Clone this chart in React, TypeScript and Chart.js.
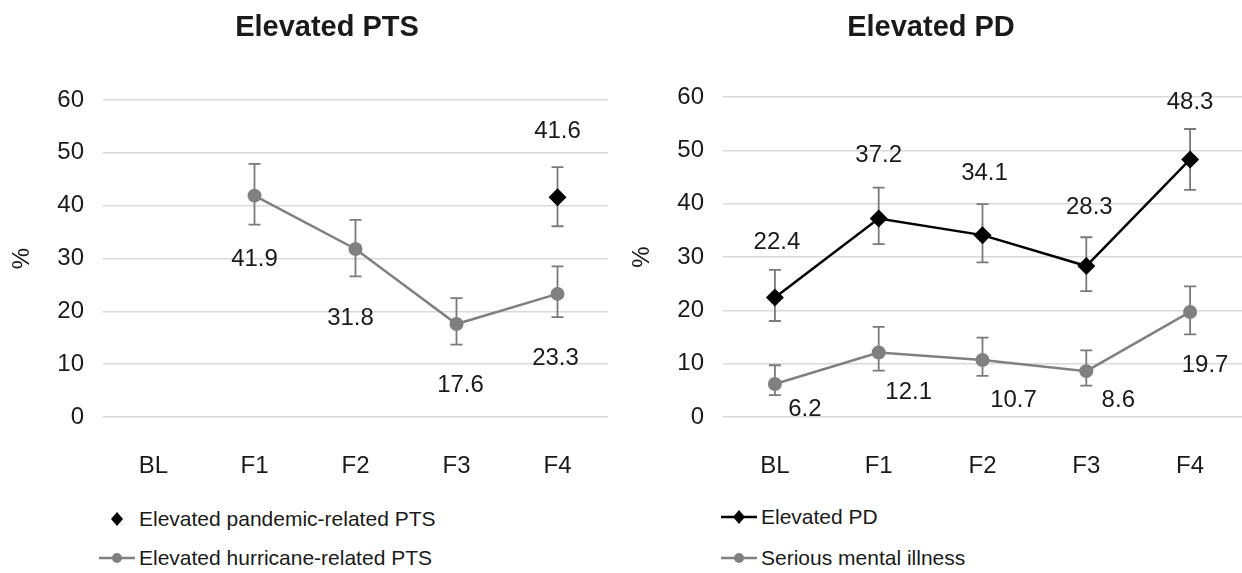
import React, { useEffect, useRef } from "react";
import { Chart, registerables } from "chart.js";

Chart.register(...registerables);

// ---------- data ----------
const categories = ["BL", "F1", "F2", "F3", "F4"];

const pandemicPTS = [null, null, null, null, 41.6];
const pandemicPTSLow = [null, null, null, null, 36.1];
const pandemicPTSHigh = [null, null, null, null, 47.3];

const hurricanePTS = [null, 41.9, 31.8, 17.6, 23.3];
const hurricanePTSLow = [null, 36.4, 26.6, 13.7, 18.9];
const hurricanePTSHigh = [null, 47.9, 37.3, 22.5, 28.5];

const elevatedPD = [22.4, 37.2, 34.1, 28.3, 48.3];
const elevatedPDLow = [18.0, 32.4, 29.0, 23.6, 42.6];
const elevatedPDHigh = [27.6, 43.0, 39.9, 33.7, 54.0];

const seriousMI = [6.2, 12.1, 10.7, 8.6, 19.7];
const seriousMILow = [4.1, 8.7, 7.7, 5.9, 15.5];
const seriousMIHigh = [9.7, 16.9, 14.9, 12.5, 24.5];

const yTicks = [0, 10, 20, 30, 40, 50, 60];

// ---------- label placement (pixel offsets from the point) ----------
const pandemicLabelOffsets = [[0, 0], [0, 0], [0, 0], [0, 0], [0, -66]];
const hurricaneLabelOffsets = [[0, 0], [0, 64], [-5, 69], [4, 61], [-2, 64]];
const pdLabelOffsets = [[2, -55], [0, -63], [2, -62], [3, -59], [0, -57]];
const smiLabelOffsets = [[30, 25], [30, 40], [31, 40], [32, 29], [15, 53]];

const FONT = "'Liberation Sans', Arial, sans-serif";
const TEXT = "#1a1a1a";
const GRAY = "#808080";
const ERR = "#7a7a7a";

const errorBarPlugin = {
  id: "errorBars",
  beforeDatasetsDraw(chart: any) {
    const { ctx } = chart;
    const y = chart.scales.y;
    chart.data.datasets.forEach((ds: any, di: number) => {
      if (!ds.errLow) return;
      const meta = chart.getDatasetMeta(di);
      meta.data.forEach((pt: any, i: number) => {
        const lo = ds.errLow[i];
        const hi = ds.errHigh[i];
        if (lo == null || hi == null || ds.data[i] == null) return;
        const x = pt.x;
        const yl = y.getPixelForValue(lo);
        const yh = y.getPixelForValue(hi);
        ctx.save();
        ctx.strokeStyle = ERR;
        ctx.lineWidth = 1.8;
        ctx.beginPath();
        ctx.moveTo(x, yl);
        ctx.lineTo(x, yh);
        ctx.moveTo(x - 6, yl);
        ctx.lineTo(x + 6, yl);
        ctx.moveTo(x - 6, yh);
        ctx.lineTo(x + 6, yh);
        ctx.stroke();
        ctx.restore();
      });
    });
  },
};

const dataLabelPlugin = {
  id: "valueLabels",
  afterDatasetsDraw(chart: any) {
    const { ctx } = chart;
    chart.data.datasets.forEach((ds: any, di: number) => {
      if (!ds.labelOffsets) return;
      const meta = chart.getDatasetMeta(di);
      meta.data.forEach((pt: any, i: number) => {
        const v = ds.data[i];
        if (v == null) return;
        const [dx, dy] = ds.labelOffsets[i];
        ctx.save();
        ctx.font = `24px ${FONT}`;
        ctx.fillStyle = TEXT;
        ctx.textAlign = "center";
        ctx.textBaseline = "middle";
        ctx.fillText(v.toFixed(1), pt.x + dx, pt.y + dy);
        ctx.restore();
      });
    });
  },
};

const titlePlugin = {
  id: "fixedTitle",
  afterDraw(chart: any, _args: any, opts: any) {
    const { ctx } = chart;
    ctx.save();
    ctx.font = `bold 29px ${FONT}`;
    ctx.fillStyle = TEXT;
    ctx.textAlign = "center";
    ctx.textBaseline = "middle";
    ctx.fillText(opts.text, opts.x, opts.y);
    ctx.restore();
  },
};

function makeOptions(title: string, titleX: number, top: number, rightPad: number) {
  return {
    responsive: false,
    animation: false as const,
    layout: { autoPadding: false, padding: { left: 0, right: rightPad, top: top, bottom: 0 } },
    plugins: {
      legend: { display: false },
      tooltip: { enabled: false },
      title: { display: false },
      fixedTitle: { text: title, x: titleX, y: 28 },
    },
    scales: {
      x: {
        type: "category" as const,
        offset: true,
        grid: { display: false, drawTicks: false },
        border: { display: false },
        ticks: { padding: 35, color: TEXT, font: { family: FONT, size: 24 } },
        afterFit: (s: any) => {
          s.height = 61;
          s.paddingLeft = 0;
          s.paddingRight = 0;
        },
      },
      y: {
        min: 0,
        max: 60,
        afterBuildTicks: (s: any) => {
          s.ticks = yTicks.map((v) => ({ value: v }));
        },
        afterFit: (s: any) => {
          s.width = 103;
        },
        grid: { color: "#d9d9d9", lineWidth: 1.5, drawTicks: false },
        border: { display: false },
        ticks: { padding: 19, color: TEXT, font: { family: FONT, size: 24 } },
        title: {
          display: true,
          text: "%",
          color: TEXT,
          font: { family: FONT, size: 24 },
          padding: { top: 8, bottom: 0 },
        },
      },
    },
  };
}

function PTSChart() {
  const ref = useRef<HTMLCanvasElement>(null);
  useEffect(() => {
    const chart = new Chart(ref.current!, {
      type: "line",
      data: {
        labels: categories,
        datasets: [
          {
            label: "Elevated pandemic-related PTS",
            data: pandemicPTS,
            errLow: pandemicPTSLow,
            errHigh: pandemicPTSHigh,
            labelOffsets: pandemicLabelOffsets,
            showLine: false,
            pointStyle: "rectRot",
            pointRadius: 9,
            backgroundColor: "#000",
            borderColor: "#000",
            borderWidth: 0,
          } as any,
          {
            label: "Elevated hurricane-related PTS",
            data: hurricanePTS,
            errLow: hurricanePTSLow,
            errHigh: hurricanePTSHigh,
            labelOffsets: hurricaneLabelOffsets,
            borderColor: GRAY,
            backgroundColor: GRAY,
            borderWidth: 2.5,
            pointStyle: "circle",
            pointRadius: 7,
            pointBorderWidth: 0,
            tension: 0,
          } as any,
        ],
      },
      options: makeOptions("Elevated PTS", 327, 100, 12) as any,
      plugins: [errorBarPlugin, dataLabelPlugin, titlePlugin],
    });
    return () => chart.destroy();
  }, []);
  return <canvas ref={ref} width={620} height={478} style={{ position: "absolute", left: 0, top: 0 }} />;
}

function PDChart() {
  const ref = useRef<HTMLCanvasElement>(null);
  useEffect(() => {
    const chart = new Chart(ref.current!, {
      type: "line",
      data: {
        labels: categories,
        datasets: [
          {
            label: "Elevated PD",
            data: elevatedPD,
            errLow: elevatedPDLow,
            errHigh: elevatedPDHigh,
            labelOffsets: pdLabelOffsets,
            borderColor: "#000",
            backgroundColor: "#000",
            borderWidth: 2.5,
            pointStyle: "rectRot",
            pointRadius: 9,
            pointBorderWidth: 0,
            tension: 0,
          } as any,
          {
            label: "Serious mental illness",
            data: seriousMI,
            errLow: seriousMILow,
            errHigh: seriousMIHigh,
            labelOffsets: smiLabelOffsets,
            borderColor: GRAY,
            backgroundColor: GRAY,
            borderWidth: 2.5,
            pointStyle: "circle",
            pointRadius: 7,
            pointBorderWidth: 0,
            tension: 0,
          } as any,
        ],
      },
      options: makeOptions("Elevated PD", 311, 97, 0) as any,
      plugins: [errorBarPlugin, dataLabelPlugin, titlePlugin],
    });
    return () => chart.destroy();
  }, []);
  return <canvas ref={ref} width={622} height={478} style={{ position: "absolute", left: 620, top: 0 }} />;
}

function LegendItem(props: { x: number; y: number; label: string; color: string; marker: "diamond" | "circle"; line: boolean }) {
  const { x, y, label, color, marker, line } = props;
  return (
    <div style={{ position: "absolute", left: x, top: y - 14, height: 28, display: "flex", alignItems: "center" }}>
      <svg width={36} height={28} style={{ display: "block" }}>
        {line && <line x1={0} y1={14} x2={36} y2={14} stroke={color} strokeWidth={2.5} />}
        {marker === "diamond" ? (
          <polygon points="18,7 24,14 18,21 12,14" fill={color} />
        ) : (
          <circle cx={18} cy={14} r={5} fill={color} />
        )}
      </svg>
      <span style={{ fontFamily: FONT, fontSize: 21, color: TEXT, marginLeft: 4, whiteSpace: "nowrap" }}>{label}</span>
    </div>
  );
}

export default function App() {
  useEffect(() => {
    document.body.style.margin = "0";
  }, []);
  return (
    <div style={{ position: "relative", width: 1242, height: 573, background: "#fff", overflow: "hidden" }}>
      <PTSChart />
      <PDChart />
      <LegendItem x={99} y={519} label="Elevated pandemic-related PTS" color="#000" marker="diamond" line={false} />
      <LegendItem x={99} y={558} label="Elevated hurricane-related PTS" color={GRAY} marker="circle" line={true} />
      <LegendItem x={721} y={517} label="Elevated PD" color="#000" marker="diamond" line={true} />
      <LegendItem x={721} y={558} label="Serious mental illness" color={GRAY} marker="circle" line={true} />
    </div>
  );
}
